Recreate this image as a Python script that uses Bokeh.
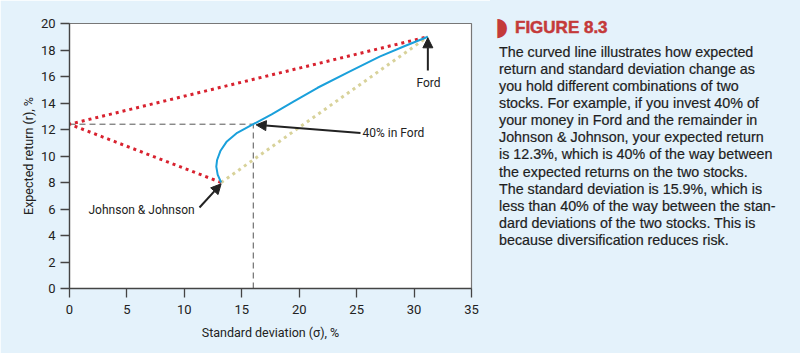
import html
from bokeh.plotting import figure
from bokeh.layouts import row
from bokeh.models import Range1d, FixedTicker, Label, Arrow, NormalHead, Div
from bokeh.embed import file_html
from bokeh.resources import INLINE

# ---------------- data ----------------
jj_sd, jj_r = 13.2, 8.0            # Johnson & Johnson
ford_sd, ford_r = 31.2, 19.0       # Ford
zero_sd, zero_r = 0.0, 12.4        # zero-risk combination (perfect negative correlation)
mix_sd, mix_r = 16.0, 12.4         # 40% in Ford

curve_sd = [13.2, 12.9, 12.78, 12.85, 13.15, 13.7, 14.6, 16.0, 17.6, 19.5, 21.6, 24.2, 27.0, 29.2, 31.2]
curve_r = [8.0, 8.6, 9.2, 9.7, 10.4, 11.1, 11.75, 12.4, 13.15, 14.1, 15.15, 16.3, 17.5, 18.3, 19.0]

x_ticks = [0, 5, 10, 15, 20, 25, 30, 35]
y_ticks = [0, 2, 4, 6, 8, 10, 12, 14, 16, 18, 20]

x_label = "Standard deviation (σ), %"
y_label = "Expected return (r), %"
ann_ford = "Ford"
ann_mix = "40% in Ford"
ann_jj = "Johnson & Johnson"

caption_title = "FIGURE 8.3"
caption_lines = [
    "The curved line illustrates how expected",
    "return and standard deviation change as",
    "you hold different combinations of two",
    "stocks. For example, if you invest 40% of",
    "your money in Ford and the remainder in",
    "Johnson & Johnson, your expected return",
    "is 12.3%, which is 40% of the way between",
    "the expected returns on the two stocks.",
    "The standard deviation is 15.9%, which is",
    "less than 40% of the way between the stan-",
    "dard deviations of the two stocks. This is",
    "because diversification reduces risk.",
]

# ---------------- layout ----------------
W, H = 800, 353
CHART_W = 490
L, R, T, B = 69, 471, 23, 288
X0, X1, Y0, Y1 = 0, 35, 0, 20


def dx(px):
    return X0 + (px - L) / (R - L) * (X1 - X0)


def dy(py):
    return Y0 + (B - py) / (B - T) * (Y1 - Y0)


BG = "#e4f2fb"
FONT = "Roboto"
FS = "12.5px"
INK = "#222222"

p = figure(width=CHART_W, height=H, output_backend="svg", toolbar_location=None,
           x_range=Range1d(X0, X1), y_range=Range1d(Y0, Y1),
           min_border_left=L, min_border_right=CHART_W - R,
           min_border_top=T, min_border_bottom=H - B)
p.background_fill_color = "white"
p.border_fill_color = BG
p.outline_line_color = "#777777"
p.outline_line_width = 1.2
p.grid.visible = False

for ax in (p.xaxis[0], p.yaxis[0]):
    ax.axis_line_color = "#444444"
    ax.axis_line_width = 1.3
    ax.major_tick_line_color = "#444444"
    ax.major_tick_line_width = 1.3
    ax.major_tick_out = 9
    ax.major_tick_in = 0
    ax.minor_tick_line_color = None
    ax.major_label_text_font = FONT
    ax.major_label_text_font_size = "13px"
    ax.major_label_text_color = INK
    ax.axis_label_text_font = FONT
    ax.axis_label_text_font_size = FS
    ax.axis_label_text_font_style = "normal"
    ax.axis_label_text_color = INK

p.xaxis.ticker = FixedTicker(ticks=x_ticks)
p.yaxis.ticker = FixedTicker(ticks=y_ticks)
p.xaxis.axis_label = x_label
p.yaxis.axis_label = y_label
p.xaxis.major_label_standoff = 7
p.yaxis.major_label_standoff = 5
p.xaxis.axis_label_standoff = 8
p.yaxis.axis_label_standoff = 2

# dashed guides for the 40% portfolio
p.line([X0, mix_sd], [mix_r, mix_r], line_color="#555555", line_width=1, line_dash="6 4")
p.line([mix_sd, mix_sd], [Y0, mix_r], line_color="#555555", line_width=1, line_dash="6 4")

# straight line between the two stocks (correlation +1)
p.line([jj_sd, ford_sd], [jj_r, ford_r], line_color="#d8d29a", line_width=3, line_dash="3 4")

# perfect negative correlation lines
p.line([jj_sd, zero_sd, ford_sd], [jj_r, zero_r, ford_r], line_color="#d8222f",
       line_width=3, line_dash="3 4")

# efficient curve
p.line(curve_sd, curve_r, line_color="#1aa0db", line_width=2)

# arrows
HEAD = dict(size=10, fill_color="#222222", line_color="#222222")
p.add_layout(Arrow(end=NormalHead(**HEAD), x_start=ford_sd, y_start=dy(70),
                   x_end=ford_sd, y_end=ford_r - 0.08, line_color="#222222", line_width=2))
p.add_layout(Arrow(end=NormalHead(**HEAD), x_start=dx(360), y_start=dy(132.5),
                   x_end=mix_sd + 0.25, y_end=mix_r - 0.05, line_color="#222222", line_width=2))
p.add_layout(Arrow(end=NormalHead(**HEAD), x_start=dx(199), y_start=dy(207),
                   x_end=jj_sd, y_end=jj_r - 0.1, line_color="#222222", line_width=2))

ANN = dict(text_font=FONT, text_font_size="12px", text_color=INK, text_baseline="middle")
p.add_layout(Label(x=dx(428), y=dy(82), text=ann_ford, text_align="center", **ANN))
p.add_layout(Label(x=dx(362), y=dy(132.5), text=ann_mix, text_align="left", **ANN))
p.add_layout(Label(x=dx(88), y=dy(209.5), text=ann_jj, text_align="left", **ANN))

# ---------------- caption panel ----------------
CW = W - CHART_W
RED = "#c43a3a"
OFF = CHART_W
body = "<br>".join(html.escape(s) for s in caption_lines)
caption_html = (
    f'<div style="position:relative;width:{CW}px;height:{H}px;background:{BG};'
    f'font-family:\'Liberation Sans\',Arial,sans-serif;margin:0;padding:0;">'
    f'<div style="position:absolute;left:{495 - OFF}px;top:13px;line-height:28px;'
    f'font-size:25px;color:{RED};font-family:\'DejaVu Sans\';">&#9687;</div>'
    f'<div style="position:absolute;left:{515 - OFF}px;top:17.5px;line-height:20px;'
    f'font-size:17px;font-weight:700;color:{RED};white-space:nowrap;'
    f'-webkit-text-stroke:0.5px {RED};">{html.escape(caption_title)}</div>'
    f'<div style="position:absolute;left:{499 - OFF}px;top:44.2px;line-height:17.05px;'
    f'font-size:14.3px;color:#1e1e1e;white-space:nowrap;'
    f'-webkit-text-stroke:0.2px #1e1e1e;">{body}</div>'
    '</div>'
)
cap = Div(text=caption_html, width=CW, height=H, margin=0)

layout = row(p, cap, spacing=0)
open("out.html", "w").write(file_html(layout, INLINE))
